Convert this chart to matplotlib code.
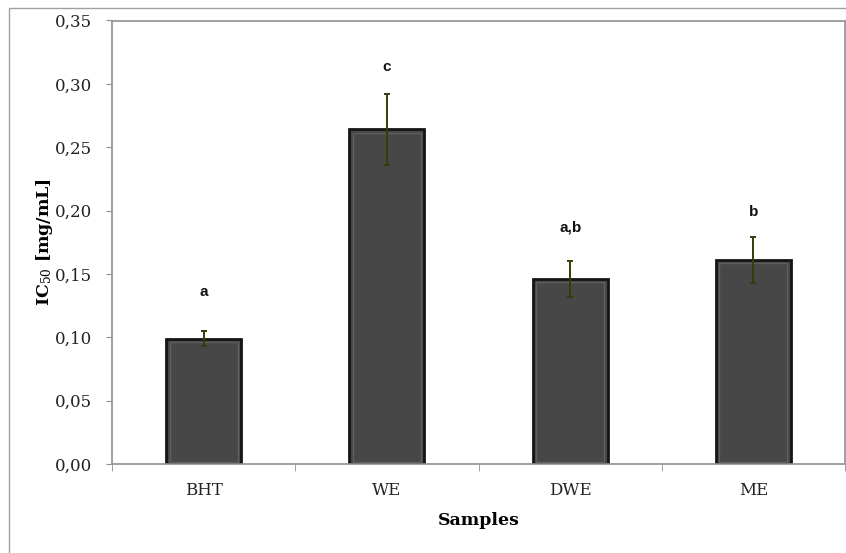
import matplotlib
matplotlib.use("Agg")
import matplotlib.pyplot as plt
from matplotlib.patches import Rectangle
from matplotlib.ticker import FuncFormatter, MultipleLocator
import numpy as np

categories = ["BHT", "WE", "DWE", "ME"]
ic50 = [0.099, 0.264, 0.146, 0.161]
errors = [0.006, 0.028, 0.0145, 0.018]
letters = ["a", "c", "a,b", "b"]
letter_y = [0.136, 0.313, 0.187, 0.199]

plt.rcParams['mathtext.fontset'] = 'dejavuserif'

fig = plt.figure(figsize=(8.46, 5.53), dpi=100)
ax = fig.add_axes([112/846, 1-464/553, (845-112)/846, (464-20.5)/553])

# outer chart border
fig.patches.append(Rectangle((9/846, -0.1), 1.2, 1-8/553+0.1, transform=fig.transFigure,
                             fill=False, edgecolor='#a0a0a0', lw=1.0, zorder=0))

x = np.arange(len(categories))
ax.bar(x, ic50, width=0.41, color='#474747', edgecolor='#151515', linewidth=2.0, zorder=2)
# inner bevel highlight
ax.bar(x, [v - 0.004 for v in ic50], width=0.37, bottom=0.0015, color='none',
       edgecolor='#5e5e5e', linewidth=1.0, zorder=3)
ax.errorbar(x, ic50, yerr=errors, fmt='none', ecolor='#3a3a0c', elinewidth=1.4,
            capsize=2.5, capthick=1.4, zorder=4)

for xi, ly, lab in zip(x, letter_y, letters):
    ax.text(xi, ly, lab, ha='center', va='center', fontsize=11, fontweight='bold',
            family='Liberation Sans', color='#111111')

ax.set_xlim(-0.5, len(categories) - 0.5)
ax.set_ylim(0, 0.35)
ax.yaxis.set_major_locator(MultipleLocator(0.05))
ax.yaxis.set_major_formatter(FuncFormatter(lambda v, p: f"{v:.2f}".replace('.', ',')))
ax.set_xticks(x)
ax.set_xticklabels(categories)
ax.set_xticks(np.arange(len(categories) + 1) - 0.5, minor=True)
ax.tick_params(axis='x', which='major', length=0, pad=13)
ax.tick_params(axis='x', which='minor', length=5, color='#909090', direction='out')
ax.tick_params(axis='y', length=4.5, color='#909090', direction='out', pad=10)
for lab in ax.get_xticklabels() + ax.get_yticklabels():
    lab.set_family('DejaVu Serif')
    lab.set_fontsize(12)
    lab.set_color('#222222')

for s in ax.spines.values():
    s.set_color('#909090')
    s.set_linewidth(1.2)

ax.set_xlabel('Samples', family='DejaVu Serif', fontweight='bold', fontsize=12.5, labelpad=9)
ax.set_ylabel(r'$\mathbf{IC}_{\mathrm{50}}$ [mg/mL]', family='DejaVu Serif', fontweight='bold',
              fontsize=12.5, labelpad=0)

fig.savefig('out.png', dpi=100)
